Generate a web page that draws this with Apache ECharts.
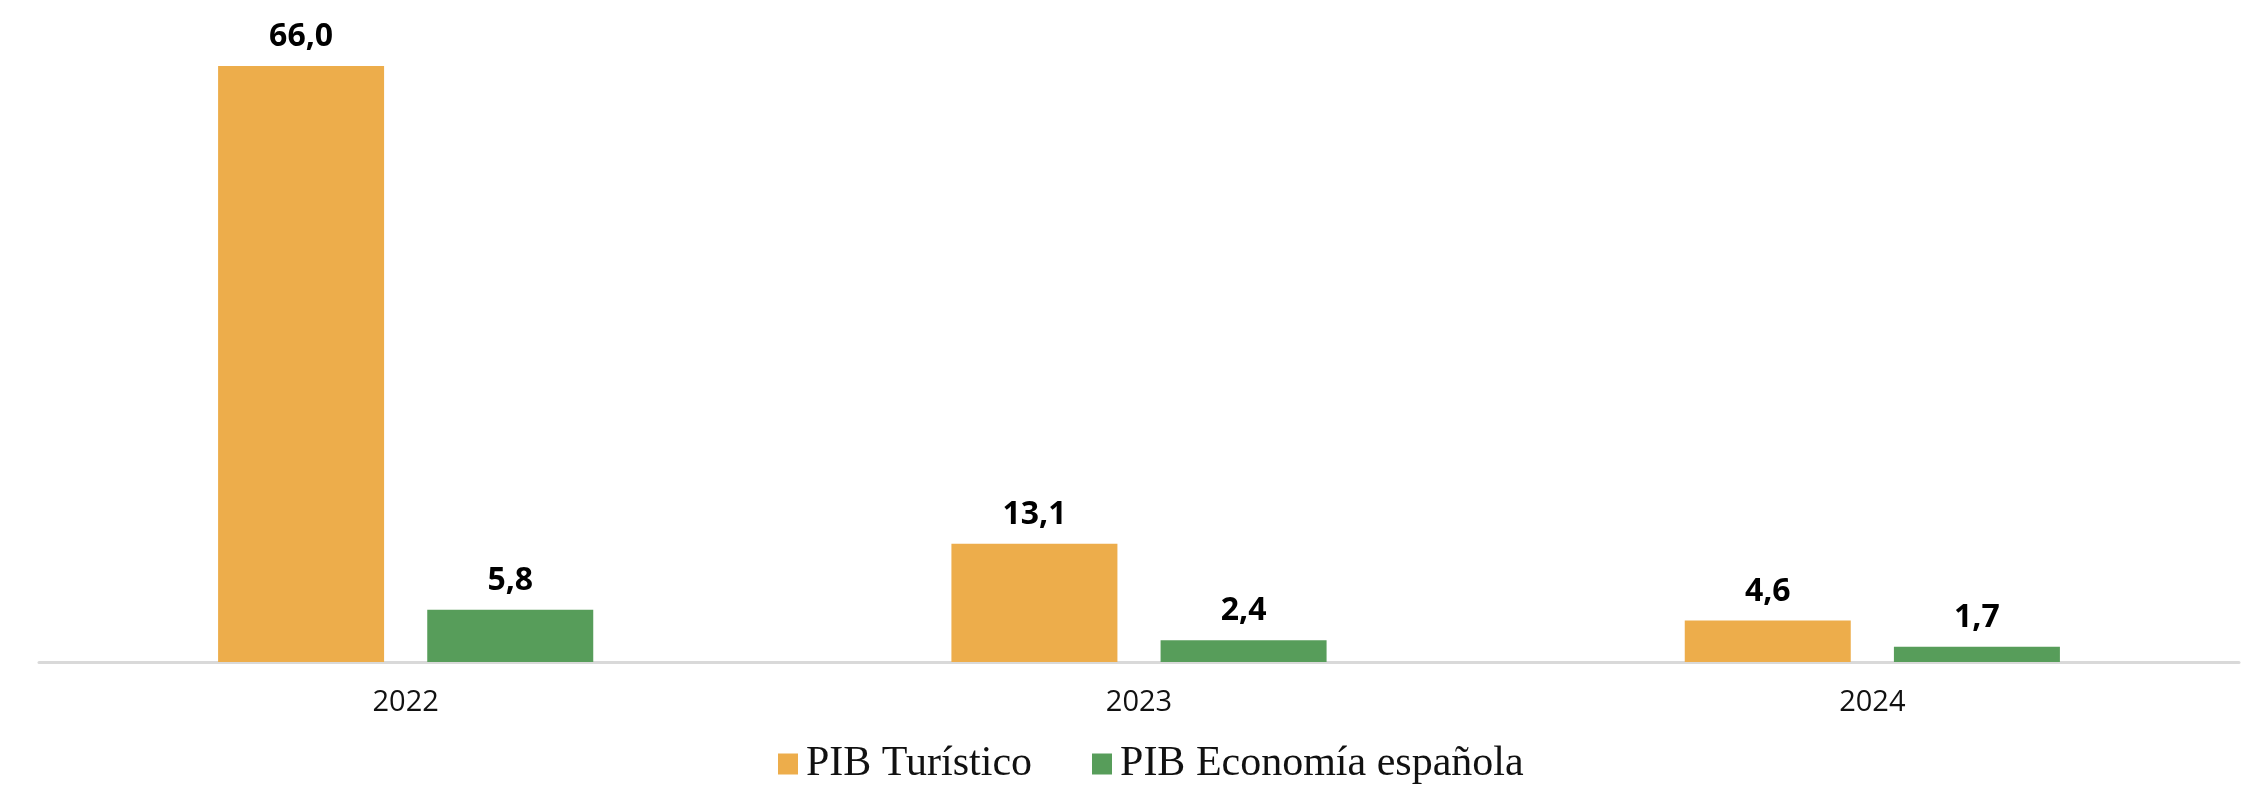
<!DOCTYPE html>
<html>
<head>
<meta charset="utf-8">
<script src="https://cdn.jsdelivr.net/npm/echarts@6/dist/echarts.min.js"></script>
<style>
  html, body { margin: 0; padding: 0; background: #fff; }
  #main { width: 2253px; height: 794px; }
</style>
</head>
<body>
<div id="main"></div>
<script>
// datos
var years = ['2022', '2023', '2024']
var pibTuristico = [66.0, 13.1, 4.6]
var pibEconomia = [5.8, 2.4, 1.7]
var seriesNames = ['PIB Turístico', 'PIB Economía española']

var chartDom = document.getElementById('main')
var myChart = echarts.init(chartDom)

function fmt(p) {
  return p.value.toFixed(1).replace('.', ',')
}

var labelStyle = {
  show: true,
  position: 'top',
  distance: 13,
  color: '#000',
  fontFamily: 'Open Sans',
  fontWeight: 'bold',
  fontSize: 32,
  formatter: fmt
}

var option = {
  animation: false,
  backgroundColor: '#fff',
  grid: {
    left: 39,
    right: 14,
    top: 30,
    bottom: 132,
    containLabel: false
  },
  legend: {
    bottom: 4,
    left: 773,
    itemWidth: 20,
    itemHeight: 21,
    itemGap: 60,
    icon: 'rect',
    textStyle: {
      fontFamily: 'Liberation Serif',
      fontSize: 42,
      color: '#111',
      padding: [0, 0, 0, 3]
    },
    data: seriesNames
  },
  xAxis: {
    type: 'category',
    data: years,
    axisTick: { show: false },
    axisLine: {
      lineStyle: { color: '#D9D9D9', width: 3 }
    },
    axisLabel: {
      color: '#111',
      fontFamily: 'Open Sans',
      fontSize: 29,
      margin: 26
    }
  },
  yAxis: {
    type: 'value',
    min: 0,
    max: 70,
    show: false,
    splitLine: { show: false }
  },
  series: [
    {
      name: seriesNames[0],
      type: 'bar',
      barWidth: 166,
      barGap: '26%',
      itemStyle: { color: '#EDAD4B' },
      label: labelStyle,
      data: pibTuristico
    },
    {
      name: seriesNames[1],
      type: 'bar',
      barWidth: 166,
      itemStyle: { color: '#579D5A' },
      label: labelStyle,
      data: pibEconomia
    }
  ]
}
option && myChart.setOption(option)
</script>
</body>
</html>
